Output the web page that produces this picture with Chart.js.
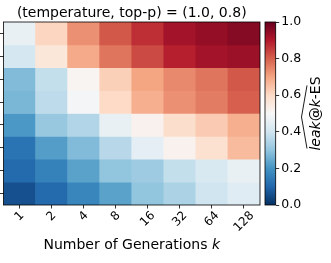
<!DOCTYPE html>
<html>
<head>
<meta charset="utf-8">
<script src="https://cdn.jsdelivr.net/npm/chart.js@4/dist/chart.umd.min.js"></script>
<style>
  body { margin: 0; background: #fff; }
  canvas { position: absolute; top: 0; }
  #heat { left: 0; }
  #cbar { left: 262px; }
</style>
</head>
<body>
<canvas id="heat" width="262" height="263"></canvas>
<canvas id="cbar" width="69" height="263"></canvas>
<script>
// number of generations k (columns)
const kLabels = ['1', '2', '4', '8', '16', '32', '64', '128'];
// estimated leak@k-ES, rows from top to bottom
const row1 = [0.46, 0.61, 0.73, 0.81, 0.87, 0.92, 0.94, 0.96];
const row2 = [0.41, 0.56, 0.69, 0.77, 0.83, 0.89, 0.92, 0.93];
const row3 = [0.28, 0.38, 0.51, 0.62, 0.70, 0.74, 0.77, 0.81];
const row4 = [0.27, 0.37, 0.49, 0.60, 0.68, 0.73, 0.76, 0.80];
const row5 = [0.21, 0.31, 0.35, 0.46, 0.52, 0.59, 0.63, 0.68];
const row6 = [0.13, 0.22, 0.28, 0.36, 0.45, 0.52, 0.58, 0.66];
const row7 = [0.11, 0.16, 0.23, 0.30, 0.32, 0.38, 0.42, 0.46];
const row8 = [0.06, 0.11, 0.17, 0.23, 0.30, 0.34, 0.40, 0.44];
const rows = [row1, row2, row3, row4, row5, row6, row7, row8];
const cbTicks = [0, 0.2, 0.4, 0.6, 0.8, 1.0];

// matplotlib RdBu_r anchors
const rdbu = ['#053061', '#2166ac', '#4393c3', '#92c5de', '#d1e5f0', '#f7f7f7',
              '#fddbc7', '#f4a582', '#d6604d', '#b2182b', '#67001f'];

function hexRgb(h) {
    return [1, 3, 5].map(i => parseInt(h.slice(i, i + 2), 16));
}
function cmap(v) {
    const t = Math.max(0, Math.min(1, v)) * (rdbu.length - 1);
    const i = Math.min(Math.floor(t), rdbu.length - 2);
    const f = t - i;
    const a = hexRgb(rdbu[i]), b = hexRgb(rdbu[i + 1]);
    const c = a.map((x, j) => Math.round(x + (b[j] - x) * f));
    return `rgb(${c[0]},${c[1]},${c[2]})`;
}

const FONT = '"DejaVu Sans", sans-serif';
const nRows = rows.length;

const heatDatasets = rows.map((vals, r) => ({
    data: vals.map(() => [nRows - 1 - r, nRows - r]),
    backgroundColor: vals.map(cmap),
    borderWidth: 0,
    barPercentage: 1,
    categoryPercentage: 1,
    grouped: false
}));

const heatDecor = {
    id: 'heatDecor',
    afterDraw(chart) {
        const ctx = chart.ctx;
        const a = chart.chartArea;
        const xs = chart.scales.x;
        ctx.save();
        ctx.strokeStyle = '#000';
        ctx.lineWidth = 0.8;
        ctx.strokeRect(a.left, a.top, a.right - a.left, a.bottom - a.top);

        ctx.fillStyle = '#000';
        ctx.font = '14px ' + FONT;
        ctx.textAlign = 'center';
        ctx.textBaseline = 'alphabetic';
        ctx.fillText('(temperature, top-p) = (1.0, 0.8)', (a.left + a.right) / 2, 17);

        // rotated tick labels, centred under each tick
        ctx.font = '12px ' + FONT;
        ctx.textBaseline = 'middle';
        kLabels.forEach((lab, i) => {
            const x = xs.getPixelForTick(i);
            const w = ctx.measureText(lab).width;
            const h = 9;
            const half = (w + h) * Math.SQRT1_2 / 2;
            ctx.save();
            ctx.translate(x, a.bottom + 5.5 + half);
            ctx.rotate(-Math.PI / 4);
            ctx.fillText(lab, 0, 0);
            ctx.restore();
        });

        // x title with italic k
        const t1 = 'Number of Generations ';
        ctx.font = '14px ' + FONT;
        const w1 = ctx.measureText(t1).width;
        ctx.font = 'italic 14px ' + FONT;
        const w2 = ctx.measureText('k').width;
        const x0 = (a.left + a.right) / 2 - (w1 + w2) / 2;
        ctx.textAlign = 'left';
        ctx.textBaseline = 'alphabetic';
        ctx.font = '14px ' + FONT;
        ctx.fillText(t1, x0, 248.5);
        ctx.font = 'italic 14px ' + FONT;
        ctx.fillText('k', x0 + w1, 248.5);
        ctx.restore();
    }
};

new Chart(document.getElementById('heat').getContext('2d'), {
    type: 'bar',
    data: { labels: kLabels, datasets: heatDatasets },
    options: {
        responsive: false,
        animation: false,
        events: [],
        layout: { padding: { top: 22, right: 2, left: 0, bottom: 0 } },
        plugins: { legend: { display: false }, tooltip: { enabled: false } },
        scales: {
            x: {
                offset: true,
                grid: { offset: false, drawOnChartArea: false, tickLength: 3.5, color: '#000', lineWidth: 0.8 },
                border: { display: false },
                ticks: { display: false },
                afterFit(s) { s.height = 58; }
            },
            y: {
                min: 0,
                max: nRows,
                afterBuildTicks(s) {
                    s.ticks = rows.map((_, i) => ({ value: i + 0.5 }));
                },
                grid: { drawOnChartArea: false, tickLength: 3.5, color: '#000', lineWidth: 0.8 },
                border: { display: false },
                ticks: { display: false },
                afterFit(s) { s.width = 3.5; }
            }
        }
    },
    plugins: [heatDecor]
});

const cbarDecor = {
    id: 'cbarDecor',
    afterDraw(chart) {
        const ctx = chart.ctx;
        const a = chart.chartArea;
        ctx.save();
        ctx.strokeStyle = '#000';
        ctx.lineWidth = 0.8;
        ctx.strokeRect(a.left, a.top, a.right - a.left, a.bottom - a.top);

        // rotated label: hat(leak@k-ES)
        const parts = [['leak', true], ['@', false], ['k', true], ['-ES', false]];
        const fontOf = it => (it ? 'italic ' : '') + '14px ' + FONT;
        const widths = parts.map(p => { ctx.font = fontOf(p[1]); return ctx.measureText(p[0]).width; });
        const total = widths.reduce((s, w) => s + w, 0);
        const cy = (a.top + a.bottom) / 2;
        ctx.translate(57.5, cy);
        ctx.rotate(-Math.PI / 2);
        ctx.fillStyle = '#000';
        ctx.textAlign = 'left';
        ctx.textBaseline = 'alphabetic';
        let x = -total / 2;
        parts.forEach((p, i) => {
            ctx.font = fontOf(p[1]);
            ctx.fillText(p[0], x, 0);
            x += widths[i];
        });
        // wide hat
        const hx0 = -total / 2 + 2, hx1 = total / 2 - 9;
        ctx.beginPath();
        ctx.lineWidth = 0.9;
        ctx.moveTo(hx0, -12.5);
        ctx.lineTo((hx0 + hx1) / 2, -18);
        ctx.lineTo(hx1, -12.5);
        ctx.stroke();
        ctx.restore();
    }
};

new Chart(document.getElementById('cbar').getContext('2d'), {
    type: 'bar',
    data: {
        labels: [''],
        datasets: [{
            data: [[cbTicks[0], cbTicks[cbTicks.length - 1]]],
            backgroundColor(c) {
                const a = c.chart.chartArea;
                if (!a) return null;
                const g = c.chart.ctx.createLinearGradient(0, a.bottom, 0, a.top);
                for (let i = 0; i <= 50; i++) g.addColorStop(i / 50, cmap(i / 50));
                return g;
            },
            borderWidth: 0,
            barPercentage: 1,
            categoryPercentage: 1
        }]
    },
    options: {
        responsive: false,
        animation: false,
        events: [],
        layout: { padding: { top: 22, left: 3, right: 0, bottom: 58 } },
        plugins: { legend: { display: false }, tooltip: { enabled: false } },
        scales: {
            x: { display: false },
            y: {
                position: 'right',
                min: 0,
                max: 1,
                afterBuildTicks(s) { s.ticks = cbTicks.map(v => ({ value: v })); },
                grid: { drawOnChartArea: false, tickLength: 3.5, color: '#000', lineWidth: 0.8 },
                border: { display: false },
                ticks: {
                    color: '#000',
                    padding: 2,
                    font: { family: FONT, size: 12.5 },
                    callback: v => v.toFixed(1)
                },
                afterFit(s) { s.width = 55.3; }
            }
        }
    },
    plugins: [cbarDecor]
});
</script>
</body>
</html>
